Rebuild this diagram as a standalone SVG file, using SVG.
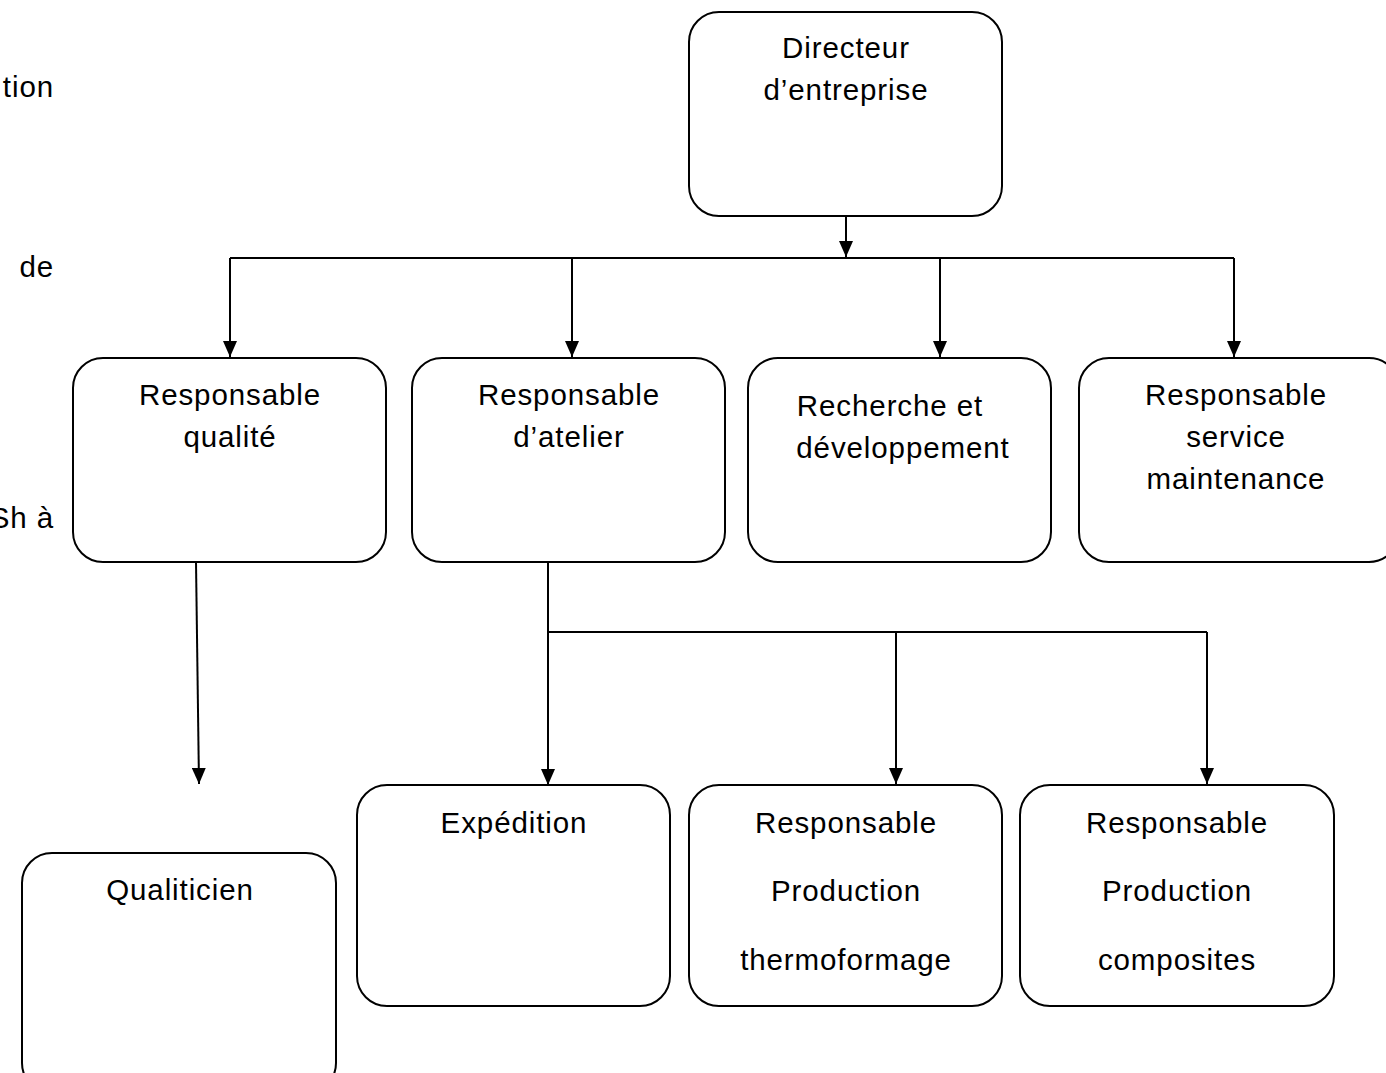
<svg xmlns="http://www.w3.org/2000/svg" width="1386" height="1073" viewBox="0 0 1386 1073">
<defs>
<style>
.box{fill:#fff;stroke:#000;stroke-width:2}
.t{font-family:"Liberation Sans",Arial,sans-serif;font-size:29.5px;letter-spacing:0.9px;fill:#000;text-anchor:middle}
.l{fill:none;stroke:#000;stroke-width:2}
</style>
<marker id="ah" viewBox="0 0 16 14" refX="16" refY="7" markerWidth="16" markerHeight="14" markerUnits="userSpaceOnUse" orient="auto">
<path d="M0,0 L16,7 L0,14 Z" fill="#000"/>
</marker>
</defs>
<rect width="1386" height="1073" fill="#fff"/>
<g id="margin-text">
<text class="t" x="54" y="97" style="text-anchor:end">tion</text>
<text class="t" x="54" y="277" style="text-anchor:end">de</text>
<text class="t" x="54" y="528" style="text-anchor:end">Sh à</text>
</g>
<g id="connectors">
<line class="l" x1="846" y1="216" x2="846" y2="257" marker-end="url(#ah)"/>
<line class="l" x1="230" y1="258" x2="1234" y2="258"/>
<line class="l" x1="230" y1="258" x2="230" y2="357" marker-end="url(#ah)"/>
<line class="l" x1="572" y1="258" x2="572" y2="357" marker-end="url(#ah)"/>
<line class="l" x1="940" y1="258" x2="940" y2="357" marker-end="url(#ah)"/>
<line class="l" x1="1234" y1="258" x2="1234" y2="357" marker-end="url(#ah)"/>
<line class="l" x1="196" y1="562" x2="199" y2="784" marker-end="url(#ah)"/>
<line class="l" x1="548" y1="562" x2="548" y2="785" marker-end="url(#ah)"/>
<line class="l" x1="548" y1="632" x2="1207" y2="632"/>
<line class="l" x1="896" y1="632" x2="896" y2="784" marker-end="url(#ah)"/>
<line class="l" x1="1207" y1="632" x2="1207" y2="784" marker-end="url(#ah)"/>
</g>
<g id="directeur">
<rect class="box" x="689" y="12" width="313" height="204" rx="30"/>
<text class="t" x="846" y="58">Directeur</text>
<text class="t" x="846" y="100">d’entreprise</text>
</g>
<g id="resp-qualite">
<rect class="box" x="73" y="358" width="313" height="204" rx="30"/>
<text class="t" x="230" y="405">Responsable</text>
<text class="t" x="230" y="447">qualité</text>
</g>
<g id="resp-atelier">
<rect class="box" x="412" y="358" width="313" height="204" rx="30"/>
<text class="t" x="569" y="405">Responsable</text>
<text class="t" x="569" y="447">d’atelier</text>
</g>
<g id="recherche">
<rect class="box" x="748" y="358" width="303" height="204" rx="30"/>
<text class="t" x="890" y="416">Recherche et</text>
<text class="t" x="903" y="458">développement</text>
</g>
<g id="maintenance">
<rect class="box" x="1079" y="358" width="320" height="204" rx="30"/>
<text class="t" x="1236" y="405">Responsable</text>
<text class="t" x="1236" y="447">service</text>
<text class="t" x="1236" y="489">maintenance</text>
</g>
<g id="qualiticien">
<rect class="box" x="22" y="853" width="314" height="240" rx="30"/>
<text class="t" x="180" y="900">Qualiticien</text>
</g>
<g id="expedition">
<rect class="box" x="357" y="785" width="313" height="221" rx="30"/>
<text class="t" x="514" y="833">Expédition</text>
</g>
<g id="prod-thermo">
<rect class="box" x="689" y="785" width="313" height="221" rx="30"/>
<text class="t" x="846" y="833">Responsable</text>
<text class="t" x="846" y="901">Production</text>
<text class="t" x="846" y="970">thermoformage</text>
</g>
<g id="prod-composites">
<rect class="box" x="1020" y="785" width="314" height="221" rx="30"/>
<text class="t" x="1177" y="833">Responsable</text>
<text class="t" x="1177" y="901">Production</text>
<text class="t" x="1177" y="970">composites</text>
</g>
</svg>
